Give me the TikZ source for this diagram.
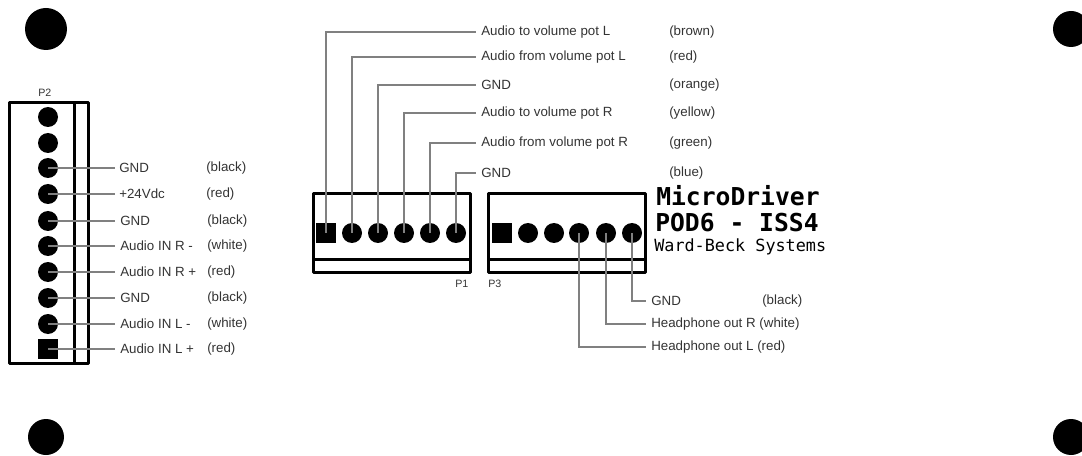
\documentclass[tikz,border=0pt]{standalone}
\usepackage{fontspec}
\setmainfont{Liberation Sans}
\newfontfamily\titlefont{DejaVu Sans Mono}
\tikzset{
 x=0.75pt,y=-0.75pt,
 boxline/.style={draw=black,line width=2.25pt,line join=round},
 wire/.style={draw=black!50,line width=2pt},
 pin/.style={circle,fill=black,minimum size=15pt,inner sep=0pt},
 pinsq/.style={rectangle,fill=black,minimum size=15pt,inner sep=0pt},
 cornera/.style={circle,fill=black,minimum size=31.5pt,inner sep=0pt},
 cornerb/.style={circle,fill=black,minimum size=27pt,inner sep=0pt},
 lab/.style={anchor=west,inner sep=0pt,text=black!80,font=\fontsize{10}{12}\selectfont},
 tag/.style={anchor=base west,inner sep=0pt,text=black!80,font=\fontsize{8}{10}\selectfont},
 title/.style={anchor=west,inner sep=0pt,font=\titlefont\bfseries\fontsize{18.5}{20}\selectfont},
 subtitle/.style={anchor=west,inner sep=0pt,font=\titlefont\fontsize{12.6}{14}\selectfont},
}
\begin{document}
\begin{tikzpicture}
\useasboundingbox (0,0) rectangle (1082,456);
\node[cornera] (c1) at (46,29) {};
\node[cornerb] (c2) at (1071,29) {};
\node[cornerb] (c3) at (46,437) {};
\node[cornerb] (c4) at (1071,437) {};
% P2
\draw[boxline] (9,103) rectangle (88,363);
\draw[boxline] (74,103) -- (74,363);
\node[tag] (p2) at (38,97) {P2};
\foreach \n/\y in {a/117,b/143,c/168,d/194,e/221,f/246,g/272,h/298,i/324}{\node[pin] (\n) at (48,\y) {};}
\node[pinsq] (j) at (48,349) {};
\foreach \n/\y/\x/\t/\col/\cx in {
 c/168/119/GND/(black)/206,
 d/194/119/+24Vdc/(red)/206,
 e/221/120/GND/(black)/207,
 f/246/120/Audio IN R -/(white)/207,
 g/272/120/Audio IN R +/(red)/207,
 h/298/120/GND/(black)/207,
 i/324/120/Audio IN L -/(white)/207,
 j/349/120/Audio IN L +/(red)/207}{
 \node[lab] (l\n) at (\x,\y) {\t};
 \node[lab] (k\n) at (\cx,\y) {\col};
 \coordinate (w\n) at (115,\y);
 \draw[wire] (\n.center) -- (w\n);
}
% P1
\draw[boxline] (313,194) rectangle (470,272);
\draw[boxline] (313,259) -- (470,259);
\node[tag] (p1) at (455,287) {P1};
\node[pinsq] (q1) at (326,233) {};
\foreach \n/\x in {q2/352,q3/378,q4/404,q5/430,q6/456}{\node[pin] (\n) at (\x,233) {};}
\foreach \n/\y/\t/\col in {
 q1/32/Audio to volume pot L/(brown),
 q2/57/Audio from volume pot L/(red),
 q3/85/GND/(orange),
 q4/113/Audio to volume pot R/(yellow),
 q5/143/Audio from volume pot R/(green),
 q6/173/GND/(blue)}{
 \node[lab] (l\n) at (481,\y) {\t};
 \node[lab] (k\n) at (669,\y) {\col};
 \coordinate (w\n) at (476,\y);
 \draw[wire] (\n.center) |- (w\n);
}
% P3
\draw[boxline] (488,194) rectangle (645,272);
\draw[boxline] (488,259) -- (645,259);
\node[tag] (p3) at (488,287) {P3};
\node[pinsq] (r1) at (502,233) {};
\foreach \n/\x in {r2/528,r3/554,r4/579,r5/606,r6/632}{\node[pin] (\n) at (\x,233) {};}
\coordinate (w6) at (646,301);
\coordinate (w5) at (646,324);
\coordinate (w4) at (646,347);
\draw[wire] (r6.center) |- (w6);
\draw[wire] (r5.center) |- (w5);
\draw[wire] (r4.center) |- (w4);
\node[lab] (t6) at (651,301) {GND};
\node[lab] (t6c) at (762,301) {(black)};
\node[lab] (t5) at (651,324) {Headphone out R (white)};
\node[lab] (t4) at (651,347) {Headphone out L (red)};
% title
\node[title] (m) at (656,196) {MicroDriver};
\node[title] (n) at (655,223) {POD6 - ISS4};
\node[subtitle] (o) at (654,247) {Ward-Beck Systems};
\end{tikzpicture}
\end{document}
